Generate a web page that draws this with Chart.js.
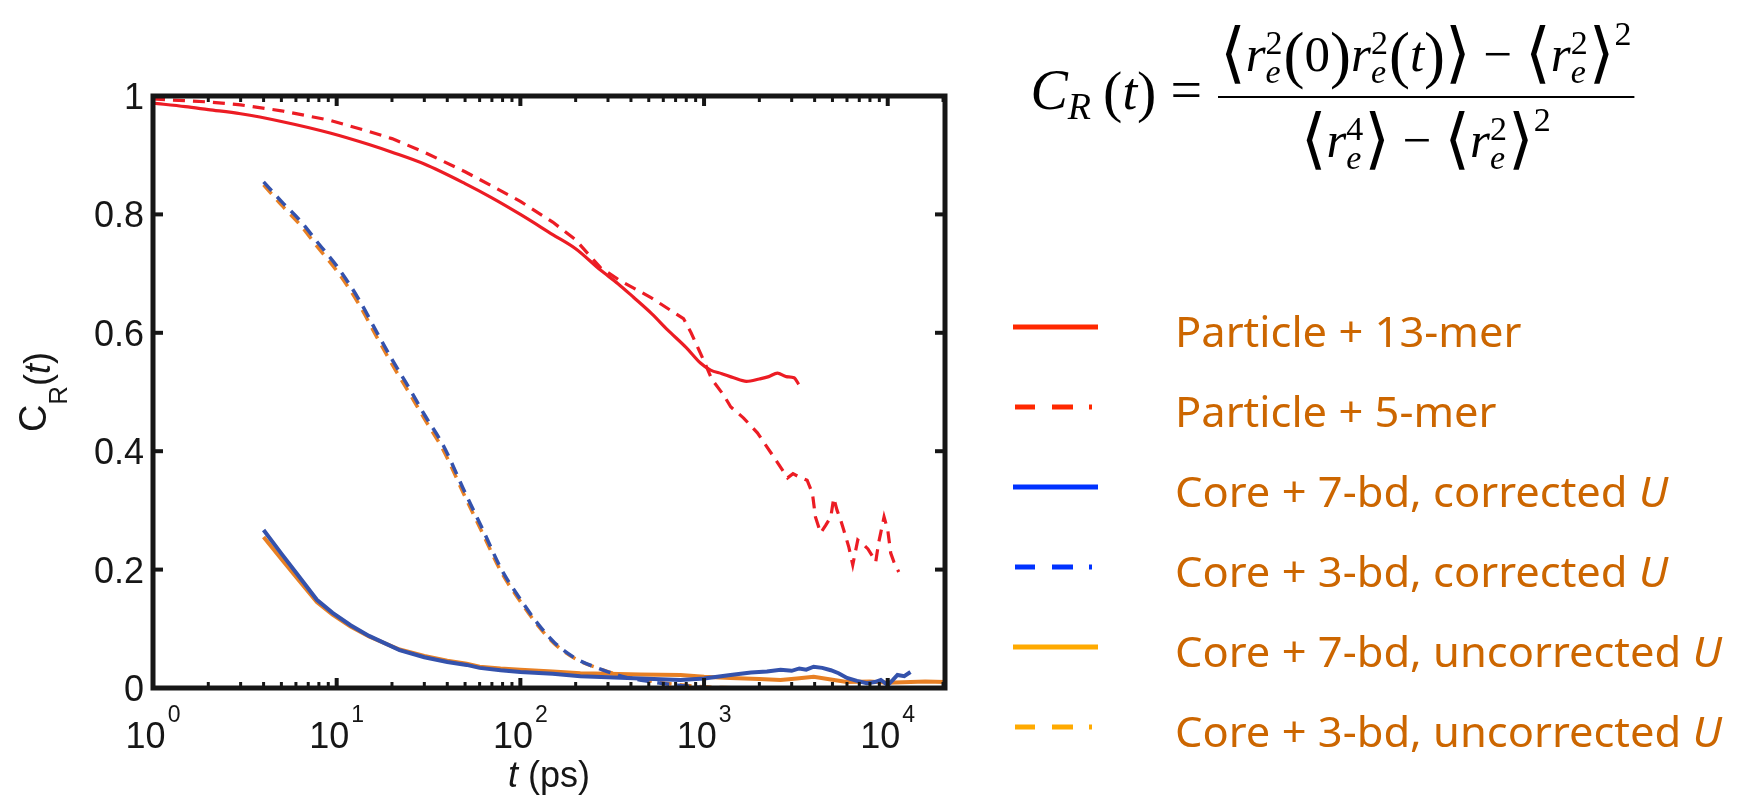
<!DOCTYPE html>
<html>
<head>
<meta charset="utf-8">
<script src="https://cdn.jsdelivr.net/npm/chart.js@4.4.0/dist/chart.umd.min.js"></script>
<style>
html, body { margin: 0; padding: 0; background: #fff; }
#wrap { position: relative; width: 1737px; height: 799px; }
</style>
</head>
<body>
<div id="wrap"><canvas id="myChart"></canvas></div>
<script>
// Particle + 13-mer (red solid)
var redSolidT = [1, 1.5, 2, 3, 5, 9.2, 15, 20, 30, 50, 70, 100, 150, 200, 273, 340, 413, 520, 633, 800, 956, 1085, 1250, 1450, 1700, 2000, 2250, 2510, 2800, 3090, 3275];
var redSolidC = [0.988, 0.982, 0.977, 0.970, 0.957, 0.9375, 0.918, 0.905, 0.885, 0.852, 0.828, 0.800, 0.766, 0.742, 0.706, 0.683, 0.660, 0.632, 0.605, 0.575, 0.549, 0.537, 0.531, 0.524, 0.518, 0.522, 0.526, 0.532, 0.526, 0.524, 0.513];

// Particle + 5-mer (red dashed)
var redDashT = [1, 2, 3, 5, 9.2, 15, 20, 30, 50, 70, 100, 150, 200, 273, 350, 511, 657, 773, 850, 922, 994, 1100, 1277, 1396, 1642, 1952, 2400, 2850, 3050, 3270, 3640, 3890, 4040, 4310, 4600, 4900, 5080, 5300, 5540, 5760, 6140, 6450, 6870, 7400, 7800, 8280, 8600, 8920, 9550, 10000, 10380, 10800, 11480];
var redDashC = [0.995, 0.990, 0.985, 0.975, 0.959, 0.940, 0.928, 0.905, 0.872, 0.848, 0.822, 0.787, 0.757, 0.710, 0.688, 0.660, 0.638, 0.624, 0.600, 0.576, 0.554, 0.522, 0.495, 0.475, 0.456, 0.431, 0.390, 0.355, 0.362, 0.357, 0.351, 0.329, 0.289, 0.262, 0.275, 0.289, 0.321, 0.300, 0.284, 0.267, 0.238, 0.208, 0.250, 0.242, 0.235, 0.222, 0.213, 0.245, 0.289, 0.267, 0.228, 0.213, 0.196];

// Core + 7-bd, corrected U (blue solid)
var blueSolidT = [4, 5, 6, 7.8, 9.5, 11.9, 15, 22, 30, 40, 51, 60, 78, 100, 150, 212, 300, 450, 745, 1000, 1393, 1800, 2200, 2610, 3000, 3300, 3600, 3950, 4400, 4900, 5400, 6000, 6800, 7700, 8500, 9170, 10000, 10700, 11300, 12300, 13300];
var blueSolidC = [0.267, 0.227, 0.195, 0.149, 0.127, 0.106, 0.088, 0.064, 0.052, 0.044, 0.039, 0.034, 0.030, 0.027, 0.024, 0.020, 0.018, 0.016, 0.0135, 0.016, 0.022, 0.026, 0.028, 0.031, 0.029, 0.033, 0.031, 0.036, 0.034, 0.030, 0.025, 0.017, 0.012, 0.008, 0.010, 0.0135, 0.005, 0.014, 0.022, 0.020, 0.027];

// Core + 3-bd, corrected U (blue dashed)
var blueDashT = [4, 5, 6.3, 8, 10, 13, 16.6, 20, 25, 30, 38, 50, 63, 79, 100, 125, 153, 200, 273, 355, 500, 700, 1000, 1500, 2000];
var blueDashC = [0.855, 0.822, 0.790, 0.750, 0.713, 0.660, 0.600, 0.555, 0.505, 0.462, 0.410, 0.330, 0.265, 0.200, 0.150, 0.108, 0.077, 0.050, 0.032, 0.020, 0.011, 0.005, 0.001, -0.002, -0.002];

// Core + 7-bd, uncorrected U (orange solid)
var orangeSolidT = [4, 5, 6, 7.8, 9.5, 11.9, 15, 22, 30, 40, 51, 60, 78, 100, 150, 212, 300, 450, 745, 1000, 1393, 2000, 2610, 3200, 3950, 5000, 6000, 8000, 10000, 13300, 16000, 20500];
var orangeSolidC = [0.255, 0.218, 0.188, 0.145, 0.124, 0.104, 0.087, 0.065, 0.054, 0.046, 0.041, 0.036, 0.033, 0.031, 0.028, 0.025, 0.024, 0.023, 0.022, 0.019, 0.017, 0.015, 0.0135, 0.016, 0.019, 0.014, 0.010, 0.011, 0.009, 0.010, 0.011, 0.010];

// Core + 3-bd, uncorrected U (orange dashed)
var orangeDashT = [4, 5, 6.3, 8, 10, 13, 16.6, 20, 25, 30, 38, 50, 63, 79, 100, 125, 153, 200, 273, 355, 500, 700, 1000, 1500, 2000];
var orangeDashC = [0.850, 0.816, 0.783, 0.742, 0.705, 0.652, 0.592, 0.547, 0.497, 0.455, 0.402, 0.323, 0.258, 0.195, 0.146, 0.105, 0.075, 0.049, 0.032, 0.021, 0.012, 0.006, 0.002, 0.000, -0.002];

var xTickVals = [1, 10, 100, 1000, 10000];
var xTickExps = ['0', '1', '2', '3', '4'];
var yTickVals = [0, 0.2, 0.4, 0.6, 0.8, 1];
var yTickLabels = ['0', '0.2', '0.4', '0.6', '0.8', '1'];

var legendLabels = ['Particle + 13-mer', 'Particle + 5-mer', 'Core + 7-bd, corrected ', 'Core + 3-bd, corrected ', 'Core + 7-bd, uncorrected ', 'Core + 3-bd, uncorrected '];
var legendItalic = ['', '', 'U', 'U', 'U', 'U'];
var legendColors = ['rgb(255,40,0)', 'rgb(255,40,0)', 'rgb(0,50,255)', 'rgb(0,50,255)', 'rgb(255,170,0)', 'rgb(255,170,0)'];
var legendDashed = [false, true, false, true, false, true];

function pts(ts, cs) {
    return ts.map(function (t, i) { return { x: t, y: cs[i] }; });
}

function ds(label, ts, cs, color, dashed, smooth, width) {
    return {
        label: label,
        data: pts(ts, cs),
        showLine: true,
        borderColor: color,
        borderWidth: width,
        borderDash: dashed ? [12, 8] : [],
        pointRadius: 0,
        fill: false,
        cubicInterpolationMode: smooth ? 'monotone' : 'default',
        tension: 0
    };
}

function line(ctx, x1, y1, x2, y2) {
    ctx.beginPath();
    ctx.moveTo(x1, y1);
    ctx.lineTo(x2, y2);
    ctx.stroke();
}

// axes frame, ticks, tick labels, axis titles
var framePlugin = {
    id: 'frame',
    afterDatasetsDraw: function (chart) {
        var ctx = chart.ctx, a = chart.chartArea;
        var xs = chart.scales.x, ys = chart.scales.y;
        ctx.save();
        ctx.strokeStyle = '#161616';
        ctx.fillStyle = '#161616';
        ctx.lineCap = 'butt';

        // minor log ticks
        ctx.lineWidth = 3;
        for (var k = 0; k < 5; k++) {
            for (var m = 2; m < 10; m++) {
                var v = m * Math.pow(10, k);
                if (v >= xs.max) continue;
                var px = xs.getPixelForValue(v);
                line(ctx, px, a.bottom, px, a.bottom - 6);
                line(ctx, px, a.top, px, a.top + 6);
            }
        }
        // major ticks
        ctx.lineWidth = 4;
        xTickVals.forEach(function (v) {
            var px = xs.getPixelForValue(v);
            line(ctx, px, a.bottom, px, a.bottom - 10);
            line(ctx, px, a.top, px, a.top + 10);
        });
        yTickVals.forEach(function (v) {
            var py = ys.getPixelForValue(v);
            line(ctx, a.left, py, a.left + 10, py);
            line(ctx, a.right, py, a.right - 10, py);
        });
        ctx.lineWidth = 5;
        ctx.strokeRect(a.left, a.top, a.right - a.left, a.bottom - a.top);

        // y tick labels
        ctx.font = '36px "Liberation Sans", Arial, sans-serif';
        ctx.textAlign = 'right';
        ctx.textBaseline = 'alphabetic';
        yTickVals.forEach(function (v, i) {
            var py = ys.getPixelForValue(v);
            ctx.fillText(yTickLabels[i], a.left - 9, py + 13);
        });

        // x tick labels 10^n
        ctx.textAlign = 'left';
        xTickVals.forEach(function (v, i) {
            var px = xs.getPixelForValue(v);
            ctx.font = '36px "Liberation Sans", Arial, sans-serif';
            var w1 = ctx.measureText('10').width;
            ctx.font = '23px "Liberation Sans", Arial, sans-serif';
            var w2 = ctx.measureText(xTickExps[i]).width;
            var x0 = px - (w1 + w2 + 2) / 2;
            ctx.font = '36px "Liberation Sans", Arial, sans-serif';
            ctx.fillText('10', x0, 748);
            ctx.font = '23px "Liberation Sans", Arial, sans-serif';
            ctx.fillText(xTickExps[i], x0 + w1 + 2, 722);
        });

        // x title: t (ps)
        ctx.font = 'italic 36px "Liberation Sans", Arial, sans-serif';
        var wt = ctx.measureText('t').width;
        ctx.font = '36px "Liberation Sans", Arial, sans-serif';
        var wp = ctx.measureText(' (ps)').width;
        var cx = (a.left + a.right) / 2;
        var sx = cx - (wt + wp) / 2;
        ctx.font = 'italic 36px "Liberation Sans", Arial, sans-serif';
        ctx.fillText('t', sx, 787);
        ctx.font = '36px "Liberation Sans", Arial, sans-serif';
        ctx.fillText(' (ps)', sx + wt, 787);

        // y title: C_R(t), rotated
        ctx.save();
        ctx.translate(46, (a.top + a.bottom) / 2);
        ctx.rotate(-Math.PI / 2);
        ctx.font = '38px "Liberation Sans", Arial, sans-serif';
        var wc = ctx.measureText('C').width;
        ctx.font = '26px "Liberation Sans", Arial, sans-serif';
        var wr = ctx.measureText('R').width;
        ctx.font = '36px "Liberation Sans", Arial, sans-serif';
        var wo = ctx.measureText('(').width;
        ctx.font = 'italic 36px "Liberation Sans", Arial, sans-serif';
        var wtt = ctx.measureText('t').width;
        var tot = wc + wr + wo * 2 + wtt;
        var x = -tot / 2;
        ctx.font = '38px "Liberation Sans", Arial, sans-serif';
        ctx.fillText('C', x, 0); x += wc;
        ctx.font = '26px "Liberation Sans", Arial, sans-serif';
        ctx.fillText('R', x, 21); x += wr;
        ctx.font = '36px "Liberation Sans", Arial, sans-serif';
        ctx.fillText('(', x, 4); x += wo;
        ctx.font = 'italic 36px "Liberation Sans", Arial, sans-serif';
        ctx.fillText('t', x, 4); x += wtt;
        ctx.font = '36px "Liberation Sans", Arial, sans-serif';
        ctx.fillText(')', x, 4);
        ctx.restore();

        ctx.restore();
    }
};

// formula pieces: {t, it, s (size factor), dy} or {sup, sub}
var SERIF = '"Liberation Serif", "DejaVu Serif", serif';
function runFont(r, B) {
    return (r.it ? 'italic ' : '') + Math.round(B * (r.s || 1)) + 'px ' + SERIF;
}
function drawRuns(ctx, runs, x, y, B, draw) {
    var x0 = x;
    runs.forEach(function (r) {
        if (r.sup !== undefined || r.sub !== undefined) {
            var w = 0;
            if (r.sup) {
                ctx.font = Math.round(B * 0.68) + 'px ' + SERIF;
                if (draw) ctx.fillText(r.sup, x, y - (r.supDy || 17));
                w = Math.max(w, ctx.measureText(r.sup).width);
            }
            if (r.sub) {
                ctx.font = 'italic ' + Math.round(B * 0.68) + 'px ' + SERIF;
                if (draw) ctx.fillText(r.sub, x, y + 12);
                w = Math.max(w, ctx.measureText(r.sub).width);
            }
            x += w + 1;
        } else {
            ctx.font = runFont(r, B);
            if (draw) ctx.fillText(r.t, x, y + (r.dy || 0));
            x += ctx.measureText(r.t).width + (r.gap || 0);
        }
    });
    return x - x0;
}

var LB = { t: '\u27E8', s: 1.3, dy: 4 };
var RB = { t: '\u27E9', s: 1.3, dy: 4 };
var formulaLeft = [{ t: 'C', it: true, s: 1.1 }, { t: 'R', it: true, s: 0.75, dy: 10, gap: 12 }, { t: '(', s: 1.15, dy: 2 }, { t: 't', it: true, s: 1.05 }, { t: ')', s: 1.15, dy: 2, gap: 14 }, { t: '=', s: 1.1, gap: 16 }];
var formulaNum = [LB, { t: 'r', it: true }, { sup: '2', sub: 'e' }, { t: '(', s: 1.25, dy: 5 }, { t: '0' }, { t: ')', s: 1.25, dy: 5 },
    { t: 'r', it: true }, { sup: '2', sub: 'e' }, { t: '(', s: 1.25, dy: 5 }, { t: 't', it: true }, { t: ')', s: 1.25, dy: 5 }, RB,
    { t: ' \u2212 ' }, LB, { t: 'r', it: true }, { sup: '2', sub: 'e' }, RB, { sup: '2', supDy: 26 }];
var formulaDen = [LB, { t: 'r', it: true }, { sup: '4', sub: 'e' }, RB, { t: ' \u2212 ' }, LB, { t: 'r', it: true }, { sup: '2', sub: 'e' }, RB, { sup: '2', supDy: 26 }];

var formulaPlugin = {
    id: 'formula',
    afterDraw: function (chart) {
        var ctx = chart.ctx;
        ctx.save();
        ctx.fillStyle = '#000';
        ctx.strokeStyle = '#000';
        ctx.textAlign = 'left';
        ctx.textBaseline = 'alphabetic';
        var B = 40;
        var wn = drawRuns(ctx, formulaNum, 0, 0, B, false);
        B = B * 412 / wn;
        wn = drawRuns(ctx, formulaNum, 0, 0, B, false);
        var wd = drawRuns(ctx, formulaDen, 0, 0, B, false);
        var lineX = 1218, lineY = 97;
        var lineW = wn + 4;
        ctx.lineWidth = 2;
        line(ctx, lineX, lineY, lineX + lineW, lineY);
        drawRuns(ctx, formulaNum, lineX + 2, 71, B, true);
        drawRuns(ctx, formulaDen, lineX + (lineW - wd) / 2, 157, B, true);
        var wl = drawRuns(ctx, formulaLeft, 0, 0, B, false);
        drawRuns(ctx, formulaLeft, lineX - wl, 109, B, true);
        ctx.restore();
    }
};

// custom legend on the right
var legendPlugin = {
    id: 'sideLegend',
    afterDraw: function (chart) {
        var ctx = chart.ctx;
        ctx.save();
        var F = '"Noto Sans", "DejaVu Sans", sans-serif';
        var size = 41;
        // stretch factor so that the longest entry spans like the reference
        ctx.font = size + 'px ' + F;
        var wMain = ctx.measureText(legendLabels[4]).width;
        ctx.font = 'italic ' + size + 'px ' + F;
        var wU = ctx.measureText('U').width;
        var sx = 547 / (wMain + wU);
        legendLabels.forEach(function (lab, i) {
            var y = 327 + 80 * i;
            ctx.strokeStyle = legendColors[i];
            ctx.lineWidth = 5;
            ctx.lineCap = 'butt';
            if (legendDashed[i]) {
                line(ctx, 1015, y, 1035, y);
                line(ctx, 1052, y, 1073, y);
                line(ctx, 1089, y, 1092, y);
            } else {
                line(ctx, 1013, y, 1098, y);
            }
            ctx.save();
            ctx.translate(1175, y + 20);
            ctx.scale(sx, 1);
            ctx.fillStyle = 'rgb(204,102,0)';
            ctx.textAlign = 'left';
            ctx.textBaseline = 'alphabetic';
            ctx.font = size + 'px ' + F;
            ctx.fillText(lab, 0, 0);
            if (legendItalic[i]) {
                var w = ctx.measureText(lab).width;
                ctx.font = 'italic ' + size + 'px ' + F;
                ctx.fillText(legendItalic[i], w, 0);
            }
            ctx.restore();
        });
        ctx.restore();
    }
};

var ctx = document.getElementById('myChart').getContext('2d');
var chart = new Chart(ctx, {
    type: 'scatter',
    data: {
        datasets: [
            ds('Particle + 13-mer', redSolidT, redSolidC, 'rgb(236,28,36)', false, true, 3.2),
            ds('Particle + 5-mer', redDashT, redDashC, 'rgb(236,28,36)', true, false, 3.2),
            ds('Core + 7-bd, corrected U', blueSolidT, blueSolidC, 'rgb(52,82,172)', false, false, 4),
            ds('Core + 3-bd, corrected U', blueDashT, blueDashC, 'rgb(52,82,172)', true, true, 3.5),
            ds('Core + 7-bd, uncorrected U', orangeSolidT, orangeSolidC, 'rgb(232,128,36)', false, false, 4),
            ds('Core + 3-bd, uncorrected U', orangeDashT, orangeDashC, 'rgb(232,128,36)', true, true, 3.5)
        ]
    },
    options: {
        responsive: true,
        maintainAspectRatio: false,
        animation: false,
        layout: { padding: { left: 153, top: 96, right: 792, bottom: 111 } },
        scales: {
            x: { type: 'logarithmic', min: 1, max: 20500, display: false },
            y: { type: 'linear', min: 0, max: 1, display: false }
        },
        plugins: {
            legend: { display: false },
            tooltip: { enabled: false }
        }
    },
    plugins: [framePlugin, formulaPlugin, legendPlugin]
});
</script>
</body>
</html>
